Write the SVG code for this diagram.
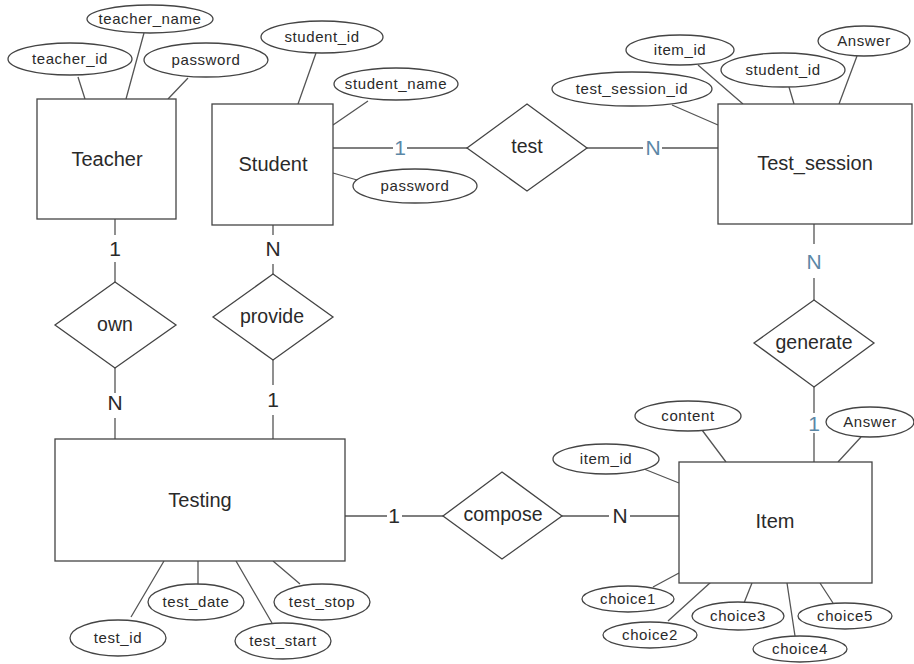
<svg xmlns="http://www.w3.org/2000/svg" width="914" height="664" viewBox="0 0 914 664">
<style>
.shape{fill:#fff;stroke:#444;stroke-width:1.3}
.ln{fill:none;stroke:#555;stroke-width:1.3}
.ent{font-family:"Liberation Sans",Arial,sans-serif;font-size:20px;fill:#2a2a2a;text-anchor:middle}
.rel{font-family:"Liberation Sans",Arial,sans-serif;font-size:19.5px;fill:#2a2a2a;text-anchor:middle}
.att{font-family:"Liberation Sans",Arial,sans-serif;font-size:15px;letter-spacing:0.6px;fill:#2a2a2a;text-anchor:middle}
.card{font-family:"Liberation Sans",Arial,sans-serif;font-size:21px;fill:#2a2a2a;text-anchor:middle}
.blue{fill:#5b87a6}
</style>
<rect width="914" height="664" fill="#fff"/>
<g id="connectors">
<path class="ln" d="M115,219V235M115,262V282M115,368V393M115,418V439"/>
<path class="ln" d="M273,225V235M273,264V274M273,360V385M273,415V439"/>
<path class="ln" d="M333,148H393M407,148H467M587,148H643M662,148H718"/>
<path class="ln" d="M814,224V244M814,278V300M814,387V413M814,433V462"/>
<path class="ln" d="M345,516H387M402,516H443M562,516H609M630,516H679"/>
<path class="ln" d="M78,77L85,99M144,33L126,99M188,78L168,99"/>
<path class="ln" d="M316,53L298,104M368,101L333,125M333,173L357,180"/>
<path class="ln" d="M698,65L743,104M789,87L794,104M857,56L839,104M672,105L718,125"/>
<path class="ln" d="M164,561L131,617M198,561V584M236,561L272,623M273,561L300,584"/>
<path class="ln" d="M702,430L726,462M861,437L838,462M639,467L679,483M653,587L679,573M668,621L711,582M744,603L752,583M795,636L787,583M833,603L820,583"/>
</g>
<g id="teacher"><rect class="shape" x="37" y="99" width="139" height="120"/><text class="ent" x="107" y="166">Teacher</text></g>
<g id="student"><rect class="shape" x="212" y="104" width="121" height="121"/><text class="ent" x="273" y="171">Student</text></g>
<g id="test_session"><rect class="shape" x="718" y="104" width="194" height="120"/><text class="ent" x="815" y="170">Test_session</text></g>
<g id="testing"><rect class="shape" x="55" y="439" width="290" height="122"/><text class="ent" x="200" y="507">Testing</text></g>
<g id="item"><rect class="shape" x="679" y="462" width="193" height="121"/><text class="ent" x="775" y="528">Item</text></g>
<g id="own"><polygon class="shape" points="115,282 176,325 115,368 55,325"/><text class="rel" x="115" y="331">own</text></g>
<g id="provide"><polygon class="shape" points="273,274 333,317 273,360 213,317"/><text class="rel" x="272" y="323">provide</text></g>
<g id="test"><polygon class="shape" points="527,104 587,148 527,191 467,148"/><text class="rel" x="527" y="153">test</text></g>
<g id="generate"><polygon class="shape" points="814,300 874,343 814,387 754,343"/><text class="rel" x="814" y="349">generate</text></g>
<g id="compose"><polygon class="shape" points="502,472 562,516 502,559 443,516"/><text class="rel" x="503" y="521">compose</text></g>
<g id="cardinalities">
<text class="card" x="115" y="256">1</text>
<text class="card" x="115" y="410">N</text>
<text class="card" x="273" y="256">N</text>
<text class="card" x="273" y="407">1</text>
<text class="card blue" x="400" y="155">1</text>
<text class="card blue" x="653" y="155">N</text>
<text class="card blue" x="814" y="269">N</text>
<text class="card blue" x="814" y="431">1</text>
<text class="card" x="394" y="523">1</text>
<text class="card" x="620" y="523">N</text>
</g>
<g id="attr_teacher_name"><ellipse class="shape" cx="150" cy="19" rx="63" ry="14"/><text class="att" x="150" y="24">teacher_name</text></g>
<g id="attr_teacher_id"><ellipse class="shape" cx="70" cy="59" rx="62" ry="16"/><text class="att" x="70" y="64">teacher_id</text></g>
<g id="attr_teacher_password"><ellipse class="shape" cx="206" cy="60" rx="62" ry="17"/><text class="att" x="206" y="65">password</text></g>
<g id="attr_student_id"><ellipse class="shape" cx="322" cy="37" rx="61" ry="16"/><text class="att" x="322" y="42">student_id</text></g>
<g id="attr_student_name"><ellipse class="shape" cx="396" cy="84" rx="62" ry="16"/><text class="att" x="396" y="89">student_name</text></g>
<g id="attr_student_password"><ellipse class="shape" cx="415" cy="186" rx="62" ry="17"/><text class="att" x="415" y="191">password</text></g>
<g id="attr_ts_item_id"><ellipse class="shape" cx="680" cy="50" rx="54" ry="15"/><text class="att" x="680" y="55">item_id</text></g>
<g id="attr_ts_student_id"><ellipse class="shape" cx="783" cy="70" rx="62" ry="17"/><text class="att" x="783" y="75">student_id</text></g>
<g id="attr_ts_answer"><ellipse class="shape" cx="864" cy="41" rx="46" ry="15"/><text class="att" x="864" y="46">Answer</text></g>
<g id="attr_test_session_id"><ellipse class="shape" cx="632" cy="89" rx="80" ry="17"/><text class="att" x="632" y="94">test_session_id</text></g>
<g id="attr_test_id"><ellipse class="shape" cx="118" cy="638" rx="48" ry="18"/><text class="att" x="118" y="643">test_id</text></g>
<g id="attr_test_date"><ellipse class="shape" cx="196" cy="602" rx="48" ry="18"/><text class="att" x="196" y="607">test_date</text></g>
<g id="attr_test_start"><ellipse class="shape" cx="283" cy="641" rx="48" ry="18"/><text class="att" x="283" y="646">test_start</text></g>
<g id="attr_test_stop"><ellipse class="shape" cx="322" cy="602" rx="48" ry="18"/><text class="att" x="322" y="607">test_stop</text></g>
<g id="attr_content"><ellipse class="shape" cx="688" cy="416" rx="53" ry="15"/><text class="att" x="688" y="421">content</text></g>
<g id="attr_item_answer"><ellipse class="shape" cx="870" cy="422" rx="44" ry="15"/><text class="att" x="870" y="427">Answer</text></g>
<g id="attr_item_id"><ellipse class="shape" cx="606" cy="459" rx="53" ry="15"/><text class="att" x="606" y="464">item_id</text></g>
<g id="attr_choice1"><ellipse class="shape" cx="628" cy="599" rx="46" ry="13"/><text class="att" x="628" y="604">choice1</text></g>
<g id="attr_choice2"><ellipse class="shape" cx="650" cy="635" rx="47" ry="13"/><text class="att" x="650" y="640">choice2</text></g>
<g id="attr_choice3"><ellipse class="shape" cx="738" cy="616" rx="46" ry="14"/><text class="att" x="738" y="621">choice3</text></g>
<g id="attr_choice4"><ellipse class="shape" cx="800" cy="649" rx="47" ry="13"/><text class="att" x="800" y="654">choice4</text></g>
<g id="attr_choice5"><ellipse class="shape" cx="845" cy="616" rx="47" ry="13"/><text class="att" x="845" y="621">choice5</text></g>
</svg>
